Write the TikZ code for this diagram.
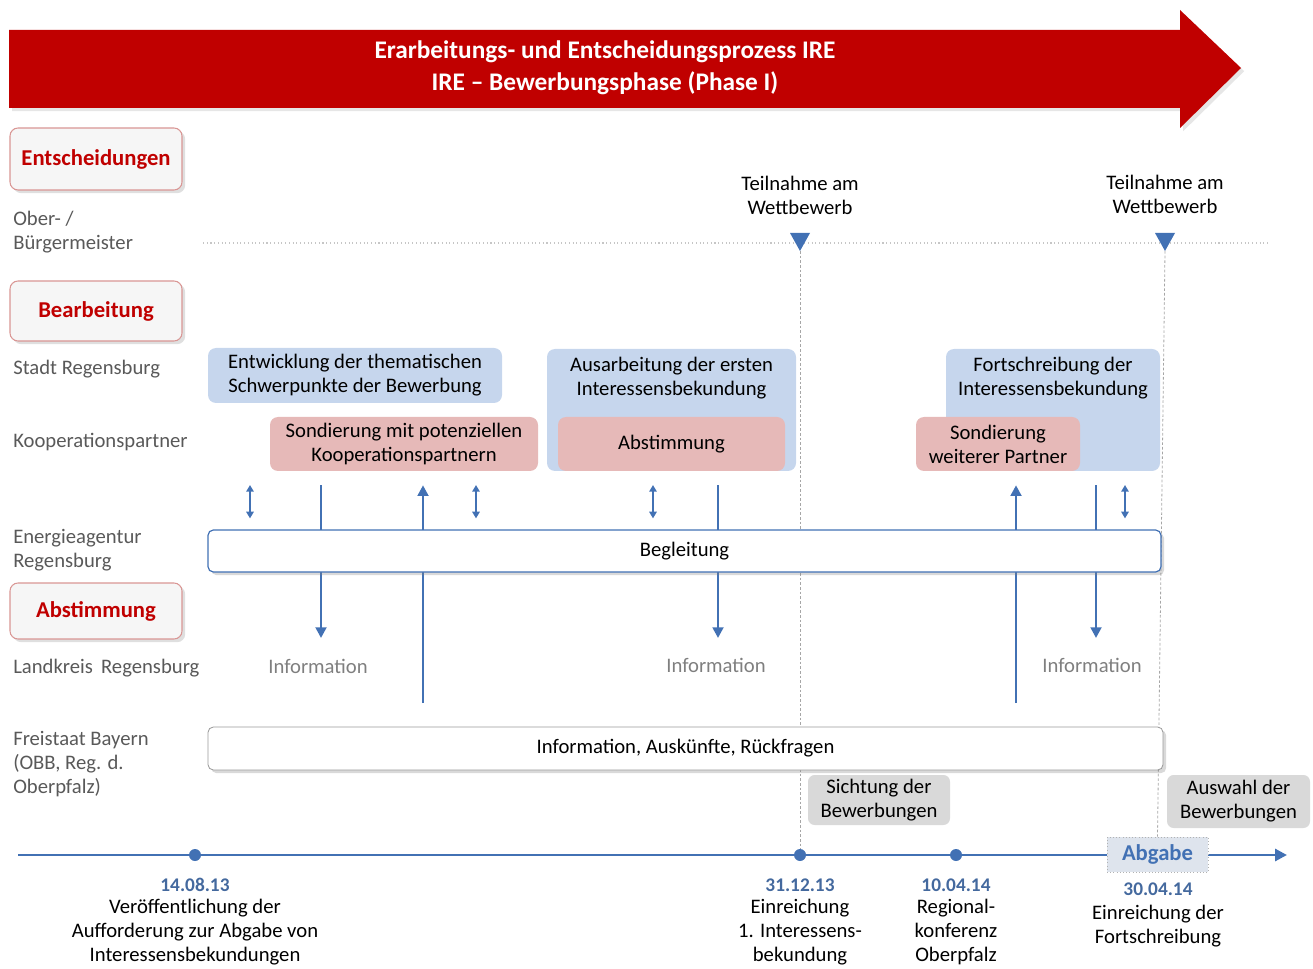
\documentclass[tikz,border=0pt]{standalone}
\usepackage{fontspec}
\setmainfont{Carlito}
\usepackage{tikz}
\usetikzlibrary{arrows.meta,shadows,backgrounds}

\definecolor{irered}{RGB}{192,0,0}
\definecolor{ireblue}{RGB}{66,113,180}
\definecolor{boxblue}{RGB}{198,214,237}
\definecolor{boxpink}{RGB}{230,185,184}
\definecolor{boxgrey}{RGB}{217,217,217}
\definecolor{labgrey}{RGB}{89,89,89}
\definecolor{infgrey}{RGB}{127,127,127}
\definecolor{datblue}{RGB}{68,105,158}
\definecolor{secborder}{RGB}{217,150,148}
\definecolor{abgfill}{RGB}{222,228,237}

\begin{document}
\begin{tikzpicture}[x=0.75pt,y=0.75pt,yscale=-1,xscale=1,
  every node/.style={font=\fontsize{15.5}{18}\selectfont},
  title/.style={text=white, align=center, inner sep=0pt, font=\fontsize{19}{24}\selectfont\bfseries},
  secbox/.style={draw=secborder, line width=0.8pt, fill=gray!7, rounded corners=6pt, minimum width=129pt, font=\fontsize{17}{18}\selectfont\bfseries, text=irered, drop shadow={opacity=0.25}},
  lab/.style={anchor=west, align=left, text=labgrey, inner sep=0pt},
  bluebox/.style={fill=boxblue, rounded corners=6pt, align=center, inner sep=0pt},
  pinkbox/.style={fill=boxpink, rounded corners=6pt, align=center, inner sep=0pt},
  greybox/.style={fill=boxgrey, rounded corners=5pt, align=center, inner sep=0pt},
  bar/.style={draw, rounded corners=4pt, fill=white, inner sep=0pt, drop shadow={opacity=0.3}},
  flow/.style={draw=ireblue, line width=2.2pt, -{Triangle[length=8pt,width=8pt]}},
  swap/.style={draw=ireblue, line width=1.3pt, {Triangle[length=5pt,width=5.5pt]}-{Triangle[length=5pt,width=5.5pt]}},
  dot/.style={circle, fill=ireblue, inner sep=0pt, minimum size=9pt},
  date/.style={text=datblue, inner sep=0pt, font=\fontsize{14.5}{18}\selectfont\bfseries},
  desc/.style={align=center, inner sep=0pt},
  guide/.style={draw=gray!70, dash pattern={on 2pt off 1.5pt}, line width=0.6pt}
]
\useasboundingbox (0,0) rectangle (1313,969);

%Shape: Arrow [title banner]
\fill [irered, drop shadow={opacity=0.2}] (9,30) -- (1180,30) -- (1180,10) -- (1241,68) -- (1180,128) -- (1180,108) -- (9,108) -- cycle ;
% Text Node
\draw (605,68) node [title] (ttl) {Erarbeitungs- und Entscheidungsprozess IRE\\IRE – Bewerbungsphase (Phase I)};

%Shape: Rounded Rect [left column]
\draw (96,159) node [secbox, minimum height=46.5pt] (entsch) {Entscheidungen};
\draw (96,311) node [secbox, minimum height=45pt] (bearb) {Bearbeitung};
\draw (96,611) node [secbox, minimum height=42pt] (abstL) {Abstimmung};

% Text Node
\draw (13,232) node [lab] (obm) {Ober- /\\Bürgermeister};
\draw (13,369) node [lab] (stadt) {Stadt Regensburg};
\draw (13,442) node [lab] (koop) {Kooperationspartner};
\draw (13,550) node [lab] (energ) {Energieagentur\\Regensburg};
\draw (13,668) node [lab] (lkr) {Landkreis\ \,Regensburg};
\draw (13,764) node [lab] (frei) {Freistaat Bayern\\(OBB, Reg. d.\\Oberpfalz)};

%Shape: Triangle [markers]
\fill [ireblue] (790,233) -- (810,233) -- (800,251) -- cycle ;
\coordinate (tri1) at (800,251);
\fill [ireblue] (1155,233) -- (1175,233) -- (1165,251) -- cycle ;
\coordinate (tri2) at (1165,251);
% Text Node
\draw (800,195) node [desc] (teil1) {Teilnahme am\\Wettbewerb};
\draw (1165,194) node [desc] (teil2) {Teilnahme am\\Wettbewerb};

%Shape: Rounded Rect [Stadt / Kooperationspartner]
\draw (355,375.5) node [bluebox, minimum width=220.5pt, minimum height=41.25pt] (ent) {Entwicklung der thematischen\\Schwerpunkte der Bewerbung};
\draw (671.5,410) node [bluebox, minimum width=186.75pt, minimum height=91.5pt] (aus) {};
\draw (671.5,378) node [desc] (ausT) {Ausarbeitung der ersten\\Interessensbekundung};
\draw (1053,410) node [bluebox, minimum width=160.5pt, minimum height=91.5pt] (fort) {};
\draw (1053,378) node [desc] (fortT) {Fortschreibung der\\Interessensbekundung};
\draw (404,444) node [pinkbox, minimum width=201pt, minimum height=40.5pt] (son1) {Sondierung mit potenziellen\\Kooperationspartnern};
\draw (671.5,444) node [pinkbox, minimum width=170.25pt, minimum height=40.5pt] (abst) {Abstimmung};
\draw (998,444) node [pinkbox, minimum width=123pt, minimum height=40.5pt] (son2) {Sondierung\\weiterer Partner};

%Shape: Rounded Rect [bars]
\draw (684.5,551) node [bar, draw=ireblue, line width=0.9pt, minimum width=714.75pt, minimum height=31.5pt] (beg) {Begleitung};
\draw (685.5,748.5) node [bar, draw=gray!80, line width=0.6pt, minimum width=716.25pt, minimum height=32.25pt] (info) {Information, Auskünfte, Rückfragen};

% Text Node
\draw (318,666) node [text=infgrey, inner sep=0pt] (inf1) {Information};
\draw (716,665) node [text=infgrey, inner sep=0pt] (inf2) {Information};
\draw (1092,665) node [text=infgrey, inner sep=0pt] (inf3) {Information};

%Shape: Rounded Rect [grey]
\draw (879,800) node [greybox, minimum width=106.5pt, minimum height=37.5pt] (sicht) {Sichtung der\\Bewerbungen};
\draw (1238.5,801.5) node [greybox, minimum width=107.25pt, minimum height=39.75pt] (ausw) {Auswahl der\\Bewerbungen};

%Shape: Timeline
\draw (195,855) node [dot] (t1) {};
\draw (800,855) node [dot] (t2) {};
\draw (956,855) node [dot] (t3) {};
\draw (1157.5,854.5) node [fill=abgfill, draw=gray!60, dotted, minimum width=75.75pt, minimum height=26.25pt, inner sep=0pt, text=ireblue, font=\fontsize{17}{18}\selectfont\bfseries] (abg) {Abgabe};
\coordinate (tl0) at (18,855);
\coordinate (tl1) at (1287,855);

% Text Node
\draw (195,885) node [date] (dt1) {14.08.13};
\draw (800,885) node [date] (dt2) {31.12.13};
\draw (956,885) node [date] (dt3) {10.04.14};
\draw (1158,889) node [date] (dt4) {30.04.14};
\draw (195,932) node [desc] (ds1) {Veröffentlichung der\\Aufforderung zur Abgabe von\\Interessensbekundungen};
\draw (800,932) node [desc] (ds2) {Einreichung\\1. Interessens-\\bekundung};
\draw (956,932) node [desc] (ds3) {Regional-\\konferenz\\Oberpfalz};
\draw (1158,926) node [desc] (ds4) {Einreichung der\\Fortschreibung};

% Arrow ends
\coordinate (in1) at (321,638);
\coordinate (in2) at (718,638);
\coordinate (in3) at (1096,638);
\coordinate (up1) at (423,703);
\coordinate (up2) at (1016,703);
\coordinate (sw1) at (250,485);
\coordinate (sw2) at (476,485);
\coordinate (sw3) at (653,485);
\coordinate (sw4) at (1125,485);
\coordinate (dl0) at (203,243);
\coordinate (dl1) at (1270,243);

\begin{scope}[on background layer]
%Straight Lines
\draw [draw=gray!45, dotted, line width=0.8pt] (dl0) -- (dl1) ;
\draw [guide] (tri1) -- (t2) ;
\draw [guide] (tri2) -- (abg.north) ;
\draw [draw=ireblue, line width=2.2pt, -{Triangle[length=9pt,width=9pt]}] (tl0) -- (tl1) ;
\draw [flow, shorten <=10.5pt] (son1.south -| in1) -- (in1) ;
\draw [flow, shorten <=10.5pt] (aus.south -| in2) -- (in2) ;
\draw [flow, shorten <=10.5pt] (fort.south -| in3) -- (in3) ;
\draw [flow, shorten >=10.5pt] (up1) -- (up1 |- son1.south) ;
\draw [flow, shorten >=10.5pt] (up2) -- (up2 |- son2.south) ;
\draw [swap, shorten >=8.25pt] (sw1) -- (sw1 |- beg.north) ;
\draw [swap, shorten >=8.25pt] (sw2) -- (sw2 |- beg.north) ;
\draw [swap, shorten >=8.25pt] (sw3) -- (sw3 |- beg.north) ;
\draw [swap, shorten >=8.25pt] (sw4) -- (sw4 |- beg.north) ;
\end{scope}

\end{tikzpicture}
\end{document}
